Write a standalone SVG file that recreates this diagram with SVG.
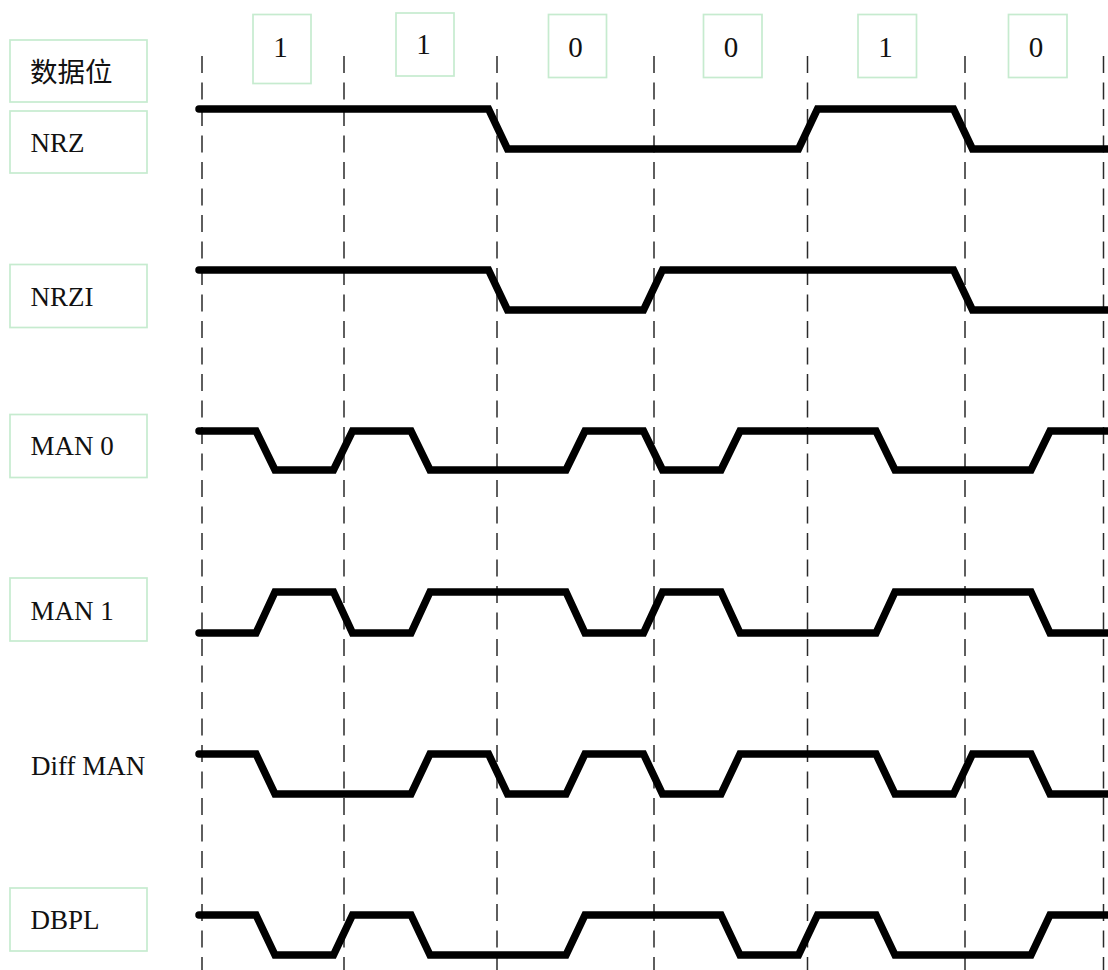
<svg xmlns="http://www.w3.org/2000/svg" width="1108" height="970" viewBox="0 0 1108 970">
  <style>
    .box { fill: #ffffff; stroke: #c6ebcf; stroke-width: 1.7; }
    .lbl { font-family: "Liberation Serif", "Times New Roman", Times, "Noto Serif", "DejaVu Serif", "Noto Sans CJK SC", serif; font-size: 27px; fill: #111111; }
    .cjk { font-family: "Noto Sans CJK SC", sans-serif; font-size: 27.5px; fill: #111111; }
    .bit { font-family: "Liberation Serif", "Times New Roman", Times, "Noto Serif", "DejaVu Serif", serif; font-size: 29px; fill: #111111; text-anchor: middle; }
    .grid { stroke: #2a2a2a; stroke-width: 1.5; stroke-dasharray: 17 9.5; fill: none; }
    .wave { stroke: #000000; stroke-width: 7.5; fill: none; stroke-linecap: round; stroke-linejoin: miter; }
  </style>
  <rect width="1108" height="970" fill="#ffffff"/>

  <g id="gridlines">
    <line class="grid" x1="202" y1="56" x2="202" y2="970"/>
    <line class="grid" x1="344" y1="56" x2="344" y2="970"/>
    <line class="grid" x1="497" y1="56" x2="497" y2="970"/>
    <line class="grid" x1="654" y1="56" x2="654" y2="970"/>
    <line class="grid" x1="807.5" y1="56" x2="807.5" y2="970"/>
    <line class="grid" x1="965" y1="56" x2="965" y2="970"/>
    <line class="grid" x1="1103.5" y1="56" x2="1103.5" y2="970"/>
  </g>

  <g id="bit-1a"><rect class="box" x="253" y="14.5" width="58" height="69"/><text class="bit" x="280.5" y="56.5">1</text></g>
  <g id="bit-1b"><rect class="box" x="396" y="13" width="58" height="63"/><text class="bit" x="423.5" y="54">1</text></g>
  <g id="bit-0a"><rect class="box" x="548.5" y="14.5" width="58" height="63"/><text class="bit" x="575.5" y="57">0</text></g>
  <g id="bit-0b"><rect class="box" x="703.5" y="14.5" width="58.5" height="63"/><text class="bit" x="731" y="57">0</text></g>
  <g id="bit-1c"><rect class="box" x="858" y="14.5" width="58.5" height="63"/><text class="bit" x="885.5" y="56.5">1</text></g>
  <g id="bit-0c"><rect class="box" x="1008.5" y="14.5" width="58.5" height="63"/><text class="bit" x="1036" y="57">0</text></g>

  <g id="label-data"><rect class="box" x="10" y="40" width="137" height="62"/><text class="cjk" x="30" y="81.5">数据位</text></g>
  <g id="label-nrz"><rect class="box" x="10" y="111" width="137" height="62"/><text class="lbl" x="30.5" y="151.5">NRZ</text></g>
  <g id="label-nrzi"><rect class="box" x="10" y="264.5" width="137" height="63"/><text class="lbl" x="30.5" y="305.5">NRZI</text></g>
  <g id="label-man0"><rect class="box" x="10" y="414.5" width="137" height="63"/><text class="lbl" x="30.5" y="455">MAN 0</text></g>
  <g id="label-man1"><rect class="box" x="10" y="578" width="137" height="63"/><text class="lbl" x="30.5" y="620">MAN 1</text></g>
  <g id="label-diffman"><text class="lbl" x="31" y="774.5">Diff MAN</text></g>
  <g id="label-dbpl"><rect class="box" x="10" y="888" width="137" height="63"/><text class="lbl" x="30.5" y="928.5">DBPL</text></g>

  <g id="waveforms">
    <path id="wave-nrz" class="wave" d="M199 109 H488.5 L507.5 149 H798.5 L817.5 109 H953.5 L972.5 149 H1114"/>
    <path id="wave-nrzi" class="wave" d="M199 270 H488.5 L507.5 310 H643.5 L662.5 270 H953.5 L972.5 310 H1114"/>
    <path id="wave-man0" class="wave" d="M199 431 H256 L275 470 H333.5 L352.5 431 H411 L430 470 H566 L585 431 H643.5 L662.5 470 H721 L740 431 H876 L895 470 H1031 L1050 431 H1114"/>
    <path id="wave-man1" class="wave" d="M199 633 H256 L275 592 H333.5 L352.5 633 H411 L430 592 H566 L585 633 H643.5 L662.5 592 H721 L740 633 H876 L895 592 H1031 L1050 633 H1114"/>
    <path id="wave-diffman" class="wave" d="M199 754 H256 L275 794 H411 L430 754 H488.5 L507.5 794 H566 L585 754 H643.5 L662.5 794 H721 L740 754 H876 L895 794 H953.5 L972.5 754 H1031 L1050 794 H1114"/>
    <path id="wave-dbpl" class="wave" d="M199 915 H256 L275 955 H333.5 L352.5 915 H411 L430 955 H566 L585 915 H721 L740 955 H798.5 L817.5 915 H876 L895 955 H1031 L1050 915 H1114"/>
  </g>
</svg>
